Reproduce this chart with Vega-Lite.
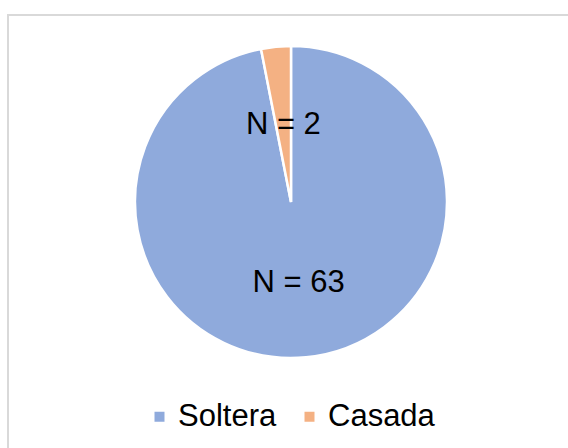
{
  "$schema": "https://vega.github.io/schema/vega-lite/v6.json",
  "autosize": "none",
  "width": 562,
  "height": 435,
  "padding": {"left": 8, "top": 15, "right": -2, "bottom": -2},
  "background": "white",
  "config": {
    "view": {"stroke": "#d9d9d9", "strokeWidth": 2},
    "font": "Liberation Sans"
  },
  "data": {
    "values": [
      {"estado": "Soltera", "n": 63, "label": "N = 63"},
      {"estado": "Casada", "n": 2, "label": "N = 2"}
    ]
  },
  "encoding": {
    "theta": {"field": "n", "type": "quantitative", "stack": true},
    "order": {"field": "n", "type": "quantitative", "sort": "descending"},
    "x": {"value": 283},
    "y": {"value": 187}
  },
  "layer": [
    {
      "mark": {"type": "arc", "outerRadius": 156, "stroke": "white", "strokeWidth": 2.5},
      "encoding": {
        "color": {
          "field": "estado",
          "type": "nominal",
          "scale": {"domain": ["Soltera", "Casada"], "range": ["#8faadc", "#f4b183"]},
          "legend": {
            "title": null,
            "orient": "none",
            "direction": "horizontal",
            "legendX": 136,
            "legendY": 386,
            "symbolType": "square",
            "symbolSize": 100,
            "symbolStrokeWidth": 0,
            "labelFontSize": 31,
            "labelFont": "Liberation Sans",
            "labelColor": "#000000",
            "labelOffset": 3,
            "columnPadding": 17,
            "padding": 0
          }
        }
      }
    },
    {
      "mark": {"type": "text", "radius": 79, "fontSize": 31, "dy": 2, "font": "Liberation Sans", "color": "#000000", "baseline": "middle", "align": "center"},
      "encoding": {
        "text": {"field": "label", "type": "nominal"}
      }
    }
  ]
}
